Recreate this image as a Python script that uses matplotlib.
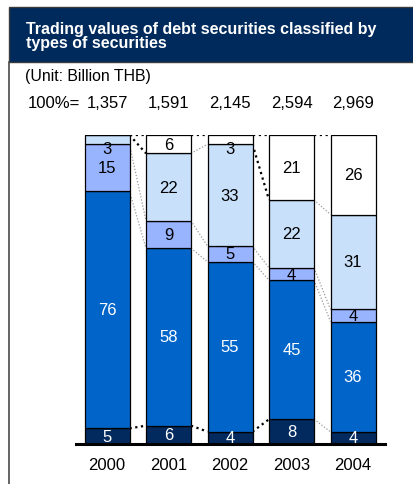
import matplotlib
matplotlib.use("Agg")
import matplotlib.pyplot as plt
from matplotlib.patches import Rectangle
import numpy as np

plt.rcParams["font.family"] = ["Liberation Sans", "DejaVu Sans"]

# shares (%) by type of security, bottom to top of each stack
years = ["2000", "2001", "2002", "2003", "2004"]
totals = ["1,357", "1,591", "2,145", "2,594", "2,969"]
seg_navy = [5, 6, 4, 8, 4]
seg_blue = [76, 58, 55, 45, 36]
seg_mid = [15, 9, 5, 4, 4]
seg_light = [3, 22, 33, 22, 31]
seg_white = [0, 6, 3, 21, 26]

COLORS = ["#022a5e", "#0064c8", "#99b4ff", "#c8e0fa", "#ffffff"]
TEXT_COLORS = ["white", "white", "black", "black", "black"]

W, H = 413, 485


def fx(px):
    return px / W


def fy(py):
    return 1 - py / H


fig = plt.figure(figsize=(W / 100, H / 100), dpi=100)
fig.set_facecolor("white")

# header band and left frame line
fig.patches.append(Rectangle((fx(9), fy(63)), fx(420 - 9), fy(8) - fy(63),
                             transform=fig.transFigure, facecolor="#002a5c",
                             edgecolor="#3a3a3a", linewidth=1.0, zorder=0))
fig.add_artist(plt.Line2D([fx(9), fx(9)], [fy(63), 0], transform=fig.transFigure,
                          color="#4a4a4a", linewidth=1.2))
fig.text(fx(26), fy(22), "Trading values of debt securities classified by\ntypes of securities",
         color="white", fontsize=11.5, fontweight="bold", va="top", ha="left",
         linespacing=0.95)
fig.text(fx(25), fy(77), "(Unit: Billion THB)", fontsize=11.4, va="center", ha="left")

# plot area: 0-100% spans y=445..136 px, bars centred every 61.5 px
ax = fig.add_axes([fx(76), fy(445), fx(385 - 76), fy(136) - fy(445)])
ax.set_xlim(-31 / 61.5, (309 - 31) / 61.5)
ax.set_ylim(0, 100)
ax.axis("off")

segs = np.array([seg_navy, seg_blue, seg_mid, seg_light, seg_white], dtype=float)
shares = segs / segs.sum(axis=0) * 100
tops = np.cumsum(shares, axis=0)
bottoms = tops - shares
x = np.arange(len(years))
bw = 45 / 61.5

for k in range(len(segs)):
    ax.bar(x, shares[k], bottom=bottoms[k], width=bw, color=COLORS[k],
           edgecolor="black", linewidth=0.9, zorder=2)
    for i in range(len(years)):
        if segs[k, i] == 0:
            continue
        yl = bottoms[k, i] + shares[k, i] / 2
        if segs[k, i] <= 3 and k >= 3:
            yl = bottoms[k, i] - 1.5
        ax.text(x[i], yl, f"{segs[k, i]:.0f}", ha="center", va="center",
                color=TEXT_COLORS[k], fontsize=12, zorder=4)

# dotted connectors between neighbouring stacks
grey_links = {(1, 3), (3, 0), (3, 3)}
for k in range(len(segs)):
    for i in range(len(years) - 1):
        black = k in (0, 3, 4) and (i, k) not in grey_links
        xs = [x[i] + bw / 2, x[i + 1] - bw / 2]
        ys = [tops[k, i], tops[k, i + 1]]
        if black:
            ax.plot(xs, ys, color="black", linestyle=(0, (1, 1.6)), linewidth=1.6, zorder=1)
        else:
            ax.plot(xs, ys, color="#9a9a9a", linestyle=(0, (1, 1.5)), linewidth=0.9, zorder=1)

ax.axhline(0, color="black", linewidth=2.2, zorder=5, clip_on=False)

for i in range(len(years)):
    ax.text(x[i], -6.5, years[i], ha="center", va="center", fontsize=12)
    ax.text(x[i], 110.5, totals[i], ha="center", va="center", fontsize=12)
fig.text(fx(28), fy(103), "100%=", ha="left", va="center", fontsize=12)

fig.savefig("out.png", dpi=100)
